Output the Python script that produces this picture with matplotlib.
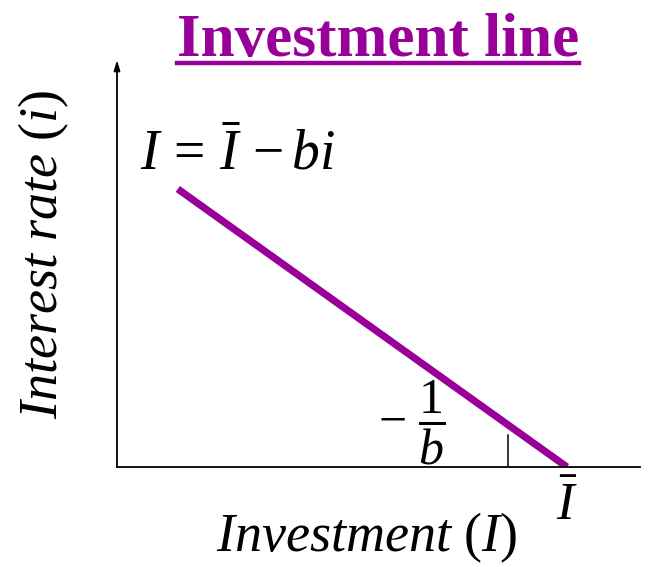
import matplotlib.pyplot as plt
from matplotlib.lines import Line2D

plt.rcParams['font.family'] = ['Liberation Serif', 'DejaVu Serif']
plt.rcParams['mathtext.fontset'] = 'custom'
plt.rcParams['mathtext.rm'] = 'Liberation Serif'
plt.rcParams['mathtext.it'] = 'Liberation Serif:italic'
plt.rcParams['mathtext.bf'] = 'Liberation Serif:bold'

# investment line I = I_bar - b*i
i_bar = 10.0
b = 1.4
invest = [1.35, 10.0]
rate = [(i_bar - x) / b for x in invest]
tick_x = 8.69

purple = "#990099"

fig = plt.figure(figsize=(6.48, 5.67), dpi=100)
ax = fig.add_axes([117 / 648, 100 / 567, 523 / 648, 407 / 567])
ax.set_xlim(0, 523 / 45)
ax.set_ylim(0, 407 / 45)
for s in ["top", "right", "left"]:
    ax.spines[s].set_visible(False)
ax.spines["bottom"].set_linewidth(1.3)
ax.set_xticks([])
ax.set_yticks([])

# y axis with arrow
ax.annotate("", xy=(0, 407 / 45), xytext=(0, 0),
            arrowprops=dict(arrowstyle="-|>,head_width=0.18,head_length=0.6",
                            lw=1.3, color="black", shrinkA=0, shrinkB=0),
            annotation_clip=False)

ax.plot(invest, rate, color=purple, lw=5.2, solid_capstyle="butt")
ax.plot([tick_x, tick_x], [0, 32 / 45], color="black", lw=1.1)

ax.text(0.5, 6.6, r"$I\,=\,\bar{I}\,-bi$", fontsize=40, ha="left", va="baseline")
ax.text(5.8, 0.0, r"$-\ \dfrac{1}{b}$", fontsize=36, ha="left", va="bottom")
ax.text(i_bar, -1.17, r"$\bar{I}$", fontsize=38, ha="center", va="baseline")

fig.text(44 / 648, 1 - 254 / 567, r"$\mathit{Interest\ rate}\ (i)$", fontsize=39,
         rotation=90, ha="center", va="center")
fig.text(367 / 648, 1 - 538 / 567, r"$\mathit{Investment}\ (I)$", fontsize=39,
         ha="center", va="center")

title = fig.text(378 / 648, 1 - 56 / 567, "Investment line", fontsize=44,
                 fontweight="bold", color=purple, ha="center", va="baseline")
fig.canvas.draw()
bb = title.get_window_extent().transformed(fig.transFigure.inverted())
fig.add_artist(Line2D([bb.x0, bb.x1], [1 - 63 / 567, 1 - 63 / 567],
                      transform=fig.transFigure, color=purple, lw=3.2))

fig.savefig("out.png", dpi=100)
